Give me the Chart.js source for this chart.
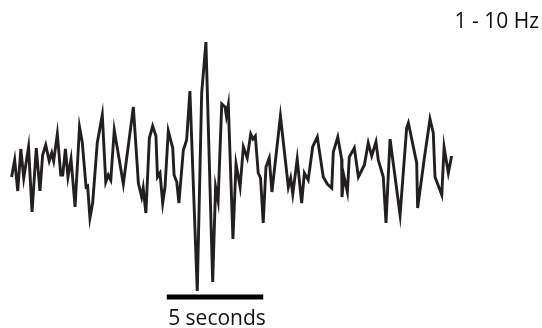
<!DOCTYPE html>
<html>
<head>
<meta charset="utf-8">
<script src="https://cdn.jsdelivr.net/npm/chart.js@4/dist/chart.umd.min.js"></script>
<style>
  html, body { margin: 0; padding: 0; background: #fff; }
  #wrap { width: 542px; height: 328px; }
</style>
</head>
<body>
<div id="wrap"><canvas id="trace" width="542" height="328"></canvas></div>
<script>
/* ── filtered trace, 1 - 10 Hz band ───────────────────── */

// time (s) and amplitude (counts) of each vertex of the trace
const TIMES = [
  0.03, 0.19, 0.35, 0.51, 0.66, 0.91, 1.09, 1.31, 1.50, 1.64,
  1.80, 1.98, 2.11, 2.21, 2.40, 2.58, 2.68, 2.82, 2.95, 3.11,
  3.32, 3.55, 3.69, 3.89, 3.97, 4.09, 4.23, 4.47, 4.73, 4.91,
  5.04, 5.17, 5.35, 5.82, 6.34, 6.60, 6.77, 6.85, 6.99, 7.17,
  7.34, 7.51, 7.59, 7.72, 7.86, 7.98, 8.15, 8.38, 8.45, 8.59,
  8.70, 8.93, 9.10, 9.27, 9.65, 9.88, 10.10, 10.45, 10.60, 10.73,
  10.92, 11.09, 11.16, 11.26, 11.50, 11.66, 11.87, 12.04, 12.24, 12.42,
  12.54, 12.66, 12.81, 12.93, 13.07, 13.21, 13.38, 13.52, 13.96, 14.37,
  14.49, 14.60, 14.83, 15.06, 15.20, 15.40, 15.63, 15.87, 16.18, 16.39,
  16.62, 16.70, 16.93, 17.13, 17.15, 17.25, 17.43, 17.53, 17.79, 18.00,
  18.31, 18.51, 18.69, 18.91, 19.03, 19.29, 19.43, 19.64, 20.16, 20.50,
  20.59, 21.02, 21.07, 21.41, 21.71, 21.88, 21.97, 22.32, 22.44, 22.66,
  22.83,
];
const AMPS = [
  -17, 0, -31, 11, -18, 13, -52, 12, -31, 5,
  15, -1, 7, -1, 26, -15, -15, 11, -17, 1,
  -47, 33, 18, -27, -26, -58, -43, 17, 45, -22,
  -15, -20, 30, -24, 53, -23, -37, -28, -53, 22,
  34, 24, -17, -13, -43, -27, 29, 12, -15, -22,
  -43, 10, 20, 69, -131, 67, 118, -122, -27, -41,
  56, 53, 44, 55, -79, -4, -27, 13, 2, 26,
  21, 24, -13, -18, -63, -7, 2, -32, 44, -27,
  -18, -34, 1, -43, -13, -20, 13, 23, -17, -24,
  -28, 8, 23, 1, -37, -16, -32, 3, 12, -17,
  -5, 17, 4, 18, 0, -17, -63, 21, -55, 32,
  37, -3, -48, 1, 41, 27, -17, -35, 13, -13,
  4,
];

// 5 second scale bar
const BAR_TIMES = [8.07, 13.07];
const BAR_LEVEL = -137;
const BAR_LABEL = '5 seconds';
const BAND_LABEL = '1 - 10 Hz';

const INK = '#231f20';
const FONT = "'Open Sans', 'DejaVu Sans', sans-serif";

// ── text labels drawn straight onto the canvas ──────────
const labelsPlugin = {
  id: 'labels',
  afterDraw(chart) {
    const { ctx, scales } = chart;
    ctx.save();
    ctx.fillStyle = '#111';
    ctx.font = '21px ' + FONT;
    ctx.textAlign = 'right';
    ctx.textBaseline = 'alphabetic';
    ctx.fillText(BAND_LABEL, 539, 28);
    ctx.textAlign = 'center';
    const mid = scales.x.getPixelForValue((BAR_TIMES[0] + BAR_TIMES[1]) / 2);
    ctx.fillText(BAR_LABEL, mid + 2, 325);
    ctx.restore();
  },
};

new Chart(document.getElementById('trace'), {
  type: 'line',
  data: {
    datasets: [
      {
        label: 'trace',
        data: TIMES.map((t, i) => ({ x: t, y: AMPS[i] })),
        borderColor: INK,
        borderWidth: 2.9,
        borderJoinStyle: 'miter',
        pointRadius: 0,
        tension: 0,
        fill: false,
      },
      {
        label: 'scale',
        data: BAR_TIMES.map(t => ({ x: t, y: BAR_LEVEL })),
        borderColor: '#000',
        borderWidth: 5,
        borderCapStyle: 'butt',
        pointRadius: 0,
        fill: false,
      },
    ],
  },
  options: {
    responsive: false,
    animation: false,
    clip: false,
    layout: { padding: { left: 11, right: 90, top: 30, bottom: 28 } },
    plugins: { legend: { display: false }, tooltip: { enabled: false } },
    scales: {
      x: { type: 'linear', min: 0, max: 22.85, display: false },
      y: { min: -140, max: 130, display: false },
    },
  },
  plugins: [labelsPlugin],
});
</script>
</body>
</html>
